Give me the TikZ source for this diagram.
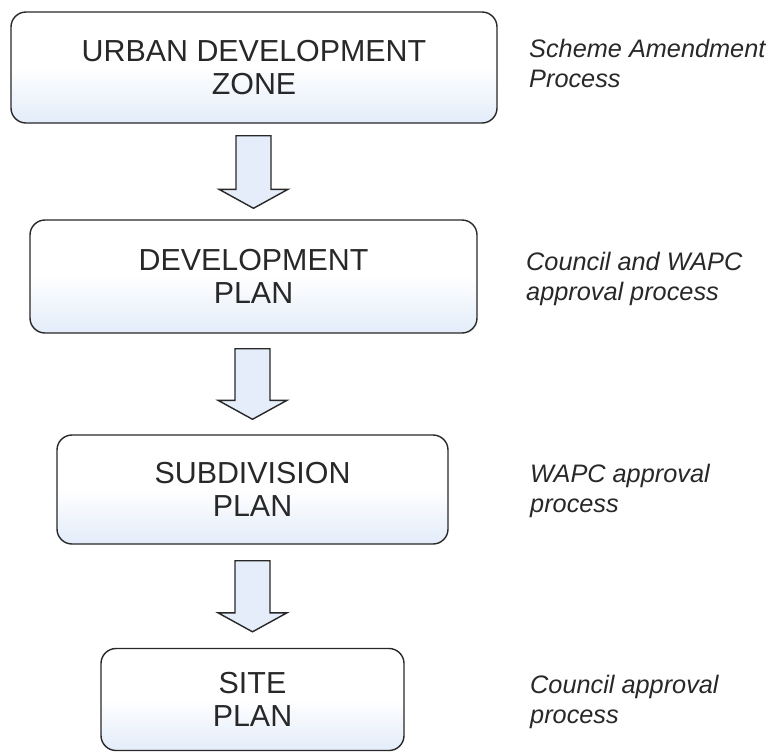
\documentclass[tikz,border=0pt]{standalone}
\usepackage{fontspec}
\setmainfont{Liberation Sans}
\usetikzlibrary{calc}
\definecolor{boxblue}{RGB}{226,236,249}
\definecolor{arrowblue}{RGB}{228,237,249}
\definecolor{inkgray}{RGB}{40,40,40}
\tikzset{
  stagebox/.style={draw=inkgray, line width=1.4pt, rounded corners=15pt,
    top color=white, bottom color=boxblue, middle color=white,
    inner sep=0pt, align=center, text=inkgray,
    font=\fontsize{30.4}{33}\selectfont},
  procnote/.style={anchor=north west, inner sep=0pt, align=left, text=inkgray,
    font=\fontsize{25.3}{30}\selectfont\itshape},
  barrow/.style={draw=inkgray, line width=1.4pt, fill=arrowblue, line join=miter}
}
\begin{document}
\begin{tikzpicture}[x=1pt,y=-1pt]
\useasboundingbox (0,0) rectangle (775,753);
\fill[white] (0,0) rectangle (775,753);

\node[stagebox, minimum width=486pt, minimum height=111pt] (b1) at (254,67.5) {URBAN DEVELOPMENT\\ZONE};
\node[stagebox, minimum width=447pt, minimum height=113pt] (b2) at (253.5,276.5) {DEVELOPMENT\\PLAN};
\node[stagebox, minimum width=391pt, minimum height=109pt] (b3) at (252.5,489.5) {SUBDIVISION\\PLAN};
\node[stagebox, minimum width=303pt, minimum height=102pt] (b4) at (252.5,699.5) {SITE\\PLAN};

\foreach \ua/\ub/\gt/\gb in {b1/b2/12/11, b2/b3/15/15, b3/b4/16/16}{
  \draw[barrow] let \p1=($(\ua.south)+(0,\gt)$), \p2=($(\ub.north)+(0,-\gb)$) in
    (\x2-17.5pt,\y1) -- (\x2+17.5pt,\y1) -- (\x2+17.5pt,\y2+19pt) -- (\x2+34.5pt,\y2+19pt)
    -- (\x2,\y2) -- (\x2-34.5pt,\y2+19pt) -- (\x2-17.5pt,\y2+19pt) -- cycle;
}

\node[procnote] (n1) at (529,38.5) {Scheme Amendment\\Process};
\node[procnote] (n2) at (526,251.5) {Council and WAPC\\approval process};
\node[procnote] (n3) at (530,463.6) {WAPC approval\\process};
\node[procnote] (n4) at (530,674.6) {Council approval\\process};
\end{tikzpicture}
\end{document}
